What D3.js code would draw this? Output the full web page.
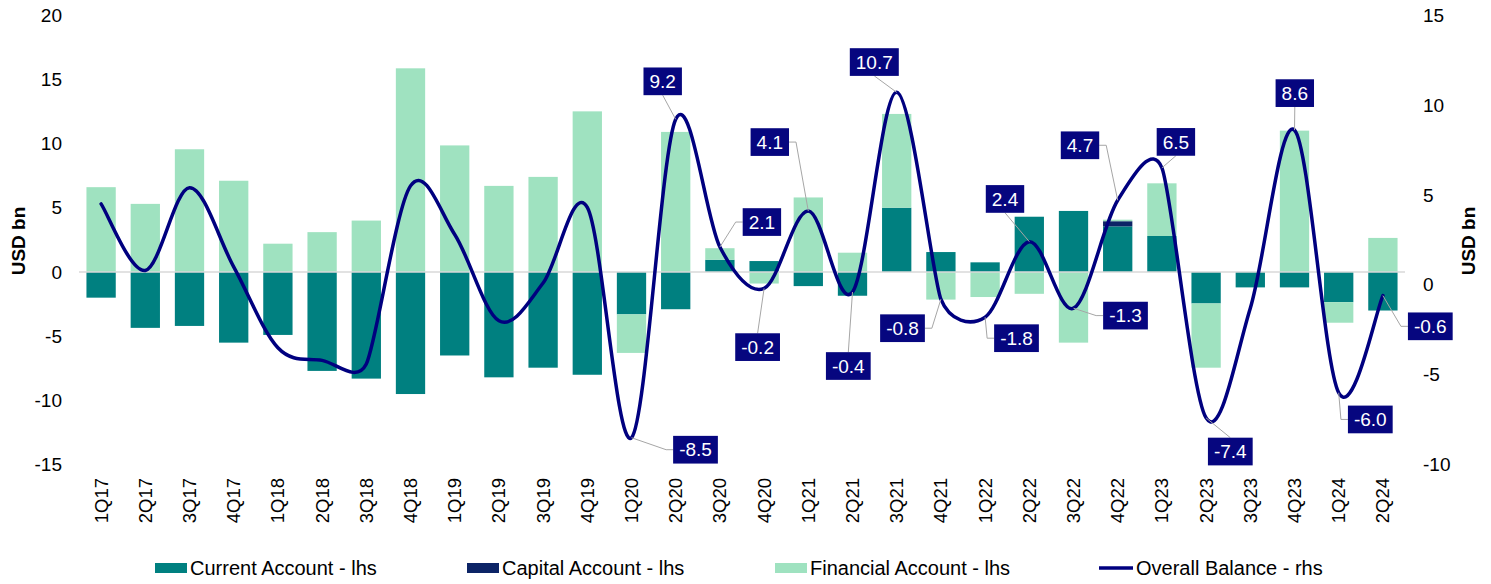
<!DOCTYPE html>
<html>
<head>
<meta charset="utf-8">
<script src="https://cdn.jsdelivr.net/npm/d3@7"></script>
<style>
  html, body { margin: 0; padding: 0; background: #fff; }
  svg { display: block; font-family: Arial, "Liberation Sans", sans-serif; }
</style>
</head>
<body>
<svg id="chart" width="1491" height="584"></svg>
<script>
// ---------------- data ----------------
const quarters = ["1Q17","2Q17","3Q17","4Q17","1Q18","2Q18","3Q18","4Q18","1Q19","2Q19","3Q19","4Q19",
                  "1Q20","2Q20","3Q20","4Q20","1Q21","2Q21","3Q21","4Q21","1Q22","2Q22","3Q22","4Q22",
                  "1Q23","2Q23","3Q23","4Q23","1Q24","2Q24"];
const currentAccount = [-2.0,-4.35,-4.2,-5.5,-4.9,-7.7,-8.3,-9.5,-6.5,-8.2,-7.45,-8.0,
                        -3.3,-2.9,0.95,0.85,-1.1,-1.85,5.0,1.55,0.75,4.3,4.75,3.55,
                        2.8,-2.45,-1.2,-1.2,-2.35,-3.0];
const capitalAccount = [0,0,0,0,0,0,0,0,0,0,0,0,
                        0,0,0,0,0,0,0,0,0,0,0,0.4,
                        0,0,0,0,0,0];
const financialAccount = [6.6,5.3,9.55,7.1,2.2,3.1,4.0,15.85,9.85,6.7,7.4,12.5,
                          -3.0,10.9,0.9,-0.9,5.8,1.5,7.3,-2.15,-1.95,-1.7,-5.5,0.12,
                          4.1,-5.0,0,11.0,-1.6,2.65];
const overallBalance = [4.5,0.8,5.4,1.0,-3.5,-4.2,-4.4,5.5,2.8,-2.0,0.1,4.3,
                        -8.5,9.2,2.1,-0.2,4.1,-0.4,10.7,-0.8,-1.8,2.4,-1.3,4.7,
                        6.5,-7.4,-1.3,8.6,-6.0,-0.6];
const labeledQuarters = ["1Q20","2Q20","3Q20","4Q20","1Q21","2Q21","3Q21","4Q21","1Q22","2Q22",
                         "3Q22","4Q22","1Q23","2Q23","4Q23","1Q24","2Q24"];
const leftTicks = [-15,-10,-5,0,5,10,15,20];
const rightTicks = [-10,-5,0,5,10,15];
const seriesNames = ["Current Account - lhs","Capital Account - lhs","Financial Account - lhs","Overall Balance - rhs"];

// ---------------- layout / style ----------------
const colors = { current: "#008080", capital: "#0c2466", financial: "#9fe2c0", line: "#00007f", box: "#06067f" };
// label box offsets from the data point (px) and leader anchor side
const labelLayout = {
  "1Q20": [64, 12, "left"],  "2Q20": [-13, -38, "bottom"], "3Q20": [42, -25, "left"],
  "4Q20": [-6.5, 58.7, "top"], "1Q21": [-38.5, -69, "right"], "2Q21": [-4.2, 74, "top"],
  "3Q21": [-22.4, -30.3, "bottom"], "4Q21": [-38.4, 29, "right"], "1Q22": [31.4, 21, "left"],
  "2Q22": [-24.3, -42.7, "bottom"], "3Q22": [52, 7.4, "left"], "4Q22": [-37.7, -55, "right"],
  "1Q23": [14, -26, "bottom"], "2Q23": [24.2, 33.6, "top"], "4Q23": [0.3, -37, "bottom"],
  "1Q24": [31.6, 26.7, "left"], "2Q24": [47.4, 30.7, "left"]
};

const svg = d3.select("#chart");
const x = d3.scaleBand().domain(quarters).range([79, 1405]).paddingInner(0.337).paddingOuter(0.1685);
const yL = d3.scaleLinear().domain([-15, 20]).range([464.7, 15]);
const yR = d3.scaleLinear().domain([-10, 15]).range([464.7, 15]);

// stacked bars
const rows = quarters.map((q, i) => ({ q, current: currentAccount[i], capital: capitalAccount[i], financial: financialAccount[i] }));
const keys = ["current", "capital", "financial"];
const stacked = d3.stack().keys(keys).offset(d3.stackOffsetDiverging)(rows);
svg.append("g").selectAll("g").data(stacked).join("g")
  .attr("fill", d => colors[d.key])
  .selectAll("rect").data(d => d).join("rect")
  .attr("x", d => x(d.data.q))
  .attr("width", x.bandwidth())
  .attr("y", d => yL(Math.max(d[0], d[1])))
  .attr("height", d => Math.abs(yL(d[0]) - yL(d[1])));

// zero line
svg.append("line").attr("x1", 79).attr("x2", 1405).attr("y1", yL(0)).attr("y2", yL(0))
  .attr("stroke", "#d9d9d9").attr("stroke-width", 1.5);

// axes tick labels
const tickFont = 19;
svg.append("g").selectAll("text").data(leftTicks).join("text")
  .attr("x", 62).attr("y", d => yL(d)).attr("dy", "0.35em").attr("text-anchor", "end")
  .attr("font-size", tickFont).attr("fill", "#000").text(d => d);
svg.append("g").selectAll("text").data(rightTicks).join("text")
  .attr("x", 1423).attr("y", d => yR(d)).attr("dy", "0.35em").attr("text-anchor", "start")
  .attr("font-size", tickFont).attr("fill", "#000").text(d => d);
svg.append("g").selectAll("text").data(quarters).join("text")
  .attr("transform", d => `translate(${x(d) + x.bandwidth() / 2 + 6.5},478) rotate(-90)`)
  .attr("text-anchor", "end").attr("font-size", 18.5).attr("fill", "#000").text(d => d);

// axis titles
svg.append("text").attr("transform", "translate(25,241) rotate(-90)").attr("text-anchor", "middle")
  .attr("font-size", 19).attr("font-weight", "bold").text("USD bn");
svg.append("text").attr("transform", "translate(1475,241) rotate(-90)").attr("text-anchor", "middle")
  .attr("font-size", 19).attr("font-weight", "bold").text("USD bn");

// overall balance line: spreadsheet-style smoothed Bezier
const pts = quarters.map((q, i) => [x(q) + x.bandwidth() / 2, yR(overallBalance[i])]);
function smoothPath(p) {
  const n = p.length, dist = (a, b) => Math.hypot(b[0] - a[0], b[1] - a[1]);
  const tan = p.map((pt, i) => {
    const a = p[Math.max(0, i - 1)], b = p[Math.min(n - 1, i + 1)];
    const d02 = dist(a, b);
    if (d02 === 0) return [0, 0];
    let f = 1 / 6;
    const d01 = dist(a, pt), d12 = dist(pt, b);
    if (i > 0) f = Math.min(f, d01 / (2 * d02));
    if (i < n - 1) f = Math.min(f, d12 / (2 * d02));
    return [(b[0] - a[0]) * f, (b[1] - a[1]) * f];
  });
  const path = d3.path();
  path.moveTo(p[0][0], p[0][1]);
  for (let i = 0; i < n - 1; i++) {
    path.bezierCurveTo(p[i][0] + tan[i][0], p[i][1] + tan[i][1],
                       p[i + 1][0] - tan[i + 1][0], p[i + 1][1] - tan[i + 1][1],
                       p[i + 1][0], p[i + 1][1]);
  }
  return path.toString();
}
svg.append("path").attr("d", smoothPath(pts))
  .attr("fill", "none").attr("stroke", colors.line).attr("stroke-width", 3.5)
  .attr("stroke-linejoin", "round").attr("stroke-linecap", "round");

// data labels
const lblFont = 19;
const lg = svg.append("g");
labeledQuarters.forEach(q => {
  const i = quarters.indexOf(q);
  const [px, py] = pts[i];
  const [dx, dy, side] = labelLayout[q];
  const txt = overallBalance[i].toFixed(1);
  const t = lg.append("text").attr("font-size", lblFont).attr("fill", "#fff").attr("text-anchor", "middle")
    .attr("x", px + dx).attr("y", py + dy).attr("dy", "0.35em").text(txt);
  const w = t.node().getComputedTextLength() + 12;
  const h = 27.7;
  const cx = px + dx, cy = py + dy;
  let path;
  if (side === "left") path = [[cx - w / 2, cy], [cx - w / 2 - 7, cy], [px, py]];
  else if (side === "right") path = [[cx + w / 2, cy], [cx + w / 2 + 7, cy], [px, py]];
  else if (side === "top") path = [[cx, cy - h / 2], [px, py]];
  else path = [[cx, cy + h / 2], [px, py]];
  lg.insert("path", "text").attr("d", d3.line()(path)).attr("fill", "none")
    .attr("stroke", "#a6a6a6").attr("stroke-width", 1);
  lg.insert("rect", "text").attr("x", cx - w / 2).attr("y", cy - h / 2).attr("width", w).attr("height", h)
    .attr("fill", colors.box);
});

// legend
const legendX = [155, 467, 775, 1099];
const lgd = svg.append("g");
[colors.current, colors.capital, colors.financial].forEach((c, i) => {
  lgd.append("rect").attr("x", legendX[i]).attr("y", 563).attr("width", 32).attr("height", 10).attr("fill", c);
});
lgd.append("line").attr("x1", legendX[3]).attr("x2", legendX[3] + 34).attr("y1", 568).attr("y2", 568)
  .attr("stroke", colors.line).attr("stroke-width", 3.5);
seriesNames.forEach((s, i) => {
  lgd.append("text").attr("x", legendX[i] + (i === 3 ? 37 : 35)).attr("y", 575)
    .attr("font-size", 20).attr("fill", "#000").text(s);
});
</script>
</body>
</html>
